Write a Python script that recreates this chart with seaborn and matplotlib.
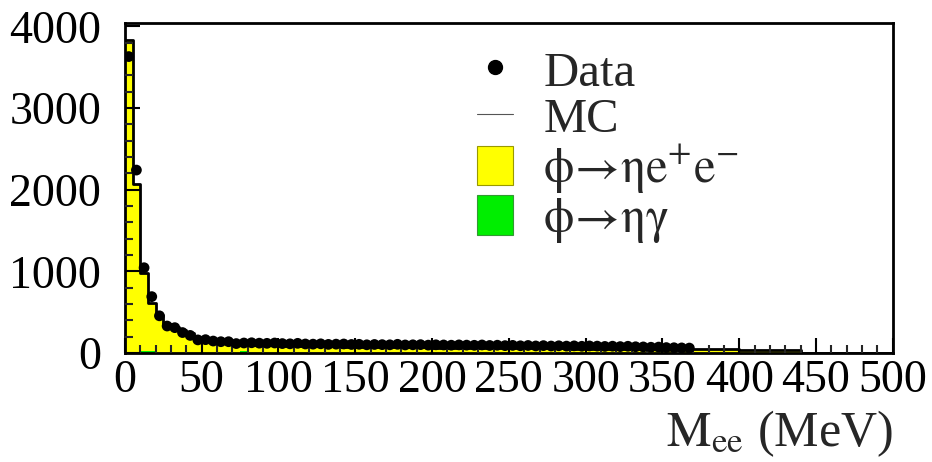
import numpy as np
import matplotlib
matplotlib.use("Agg")
import matplotlib.pyplot as plt
import seaborn as sns
from matplotlib.lines import Line2D
from matplotlib.patches import Patch
from matplotlib.ticker import MultipleLocator

sns.set_theme(style="white")
plt.rcParams['font.family'] = ['Liberation Serif', 'DejaVu Serif']
plt.rcParams['mathtext.fontset'] = 'stix'

# 5 MeV bins from 0 to 500 MeV
bin_edges = list(range(0, 505, 5))
bin_centers = [e + 2.5 for e in bin_edges[:-1]]

data_counts = [
    3630, 2240, 1044, 690, 455, 330, 310, 250, 215, 160, 163, 146, 138, 138, 115, 122,
    125, 120, 118, 122, 115, 112, 118, 110, 108, 112, 105, 108, 110, 104, 106, 100,
    104, 102, 100, 106, 98, 100, 102, 96, 100, 98, 95, 99, 96, 94, 98, 92,
    95, 90, 93, 88, 92, 86, 90, 85, 88, 84, 87, 82, 86, 84, 80, 83,
    78, 82, 76, 74, 70, 72, 66, 64, 62, 60, 0, 0, 0, 0, 0, 0,
    0, 0, 0, 0, 0, 0, 0, 0, 0, 0, 0, 0, 0, 0, 0, 0, 0, 0, 0, 0,
]

mc_eta_ee = [
    3830, 2070, 955, 585, 470, 350, 320, 280, 245, 190, 170, 150, 130, 120, 105, 80,
    100, 96, 94, 92, 91, 88, 87, 85, 84, 83, 80, 81, 78, 77, 76, 75,
    74, 74, 72, 71, 70, 70, 68, 67, 66, 66, 64, 63, 62, 62, 60, 59,
    60, 58, 59, 57, 58, 56, 57, 55, 56, 55, 54, 55, 53, 54, 52, 53,
    52, 51, 52, 50, 51, 50, 49, 50, 48, 49, 48, 47, 48, 47, 46, 45,
    40, 38, 37, 38, 36, 37, 36, 35, 0, 0, 0, 0, 0, 0, 0, 0, 0, 0, 0, 0,
]

mc_eta_gamma = [
    0, 0, 25, 30, 0, 0, 0, 0, 0, 0, 0, 0, 0, 0, 0, 20,
] + [0] * 84

mc_total = [a + b for a, b in zip(mc_eta_ee, mc_eta_gamma)]

legend_labels = ["Data", "MC",
                 r"$\mathrm{\phi\!\rightarrow\!\eta e^{+}e^{-}}$",
                 r"$\mathrm{\phi\!\rightarrow\!\eta\gamma}$"]

fig = plt.figure(figsize=(9.32, 4.62), dpi=100)
ax = fig.add_axes([0.134, 0.236, 0.824, 0.714])

# filled MC (total) in yellow
sns.histplot(x=bin_centers, weights=mc_total, bins=bin_edges, element="step",
             fill=True, color="#ffff00", alpha=1, linewidth=0, ax=ax, zorder=1)
# eta gamma in green
sns.histplot(x=bin_centers, weights=mc_eta_gamma, bins=bin_edges, element="step",
             fill=True, color="#00ee00", alpha=1, linewidth=0, ax=ax, zorder=1.1)
# MC outline
sns.histplot(x=bin_centers, weights=mc_total, bins=bin_edges, element="step",
             fill=False, color="black", linewidth=2, ax=ax, zorder=2)
# data points
mask = [c > 0 for c in data_counts]
sns.scatterplot(x=[c for c, m in zip(bin_centers, mask) if m],
                y=[v for v, m in zip(data_counts, mask) if m],
                color="black", s=60, edgecolor="none", ax=ax, zorder=3)

ax.set_xlim(0, 500)
ax.set_ylim(0, 4040)
ax.set_ylabel("")
ax.set_xlabel(r"$\mathrm{M_{ee}}$ (MeV)", fontsize=36, loc="right", labelpad=4)

ax.xaxis.set_major_locator(MultipleLocator(50))
ax.xaxis.set_minor_locator(MultipleLocator(10))
ax.yaxis.set_major_locator(MultipleLocator(1000))
ax.yaxis.set_minor_locator(MultipleLocator(200))
ax.tick_params(axis="both", which="major", direction="in", length=11, width=1.5,
               labelsize=33, colors="black")
ax.tick_params(axis="both", which="minor", direction="in", length=5.5, width=1.5)
ax.tick_params(axis="x", which="both", bottom=True, top=False, pad=5)
ax.tick_params(axis="y", which="both", left=True, right=False, pad=17)
ax.set_axisbelow(False)
for s in ax.spines.values():
    s.set_color("black")
    s.set_linewidth(2)

handles = [
    Line2D([], [], marker="o", linestyle="none", color="black", markersize=10),
    Line2D([], [], color="#555555", linewidth=0.8),
    Patch(facecolor="#ffff00", edgecolor="#999900", linewidth=0.8),
    Patch(facecolor="#00ee00", edgecolor="#339933", linewidth=0.8),
]
leg = ax.legend(handles, legend_labels, loc="upper left",
                bbox_to_anchor=(0.427, 0.995), frameon=False, fontsize=35,
                handlelength=0.74, handleheight=0.88, handletextpad=0.62,
                labelspacing=0.0, borderpad=0.0)

fig.savefig("out.png", dpi=100)
